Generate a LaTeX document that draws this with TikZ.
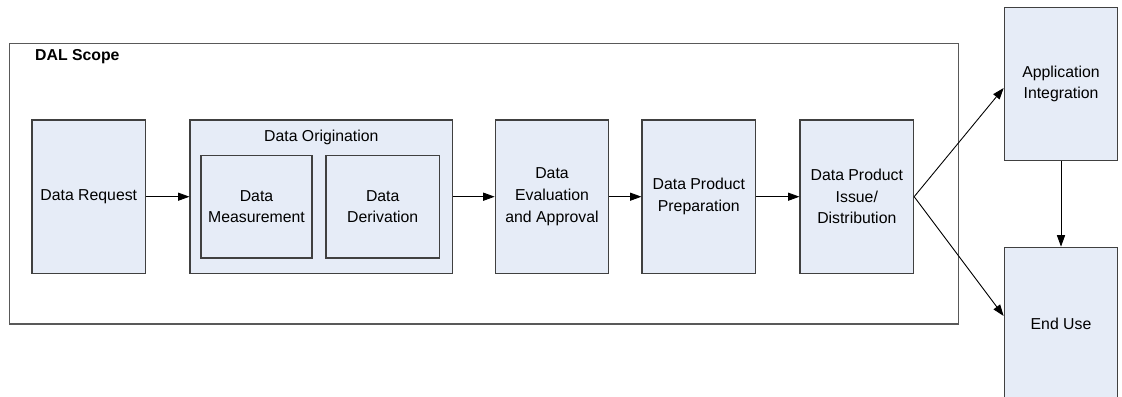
\documentclass[tikz,border=0pt]{standalone}
\usepackage{fontspec}
\setmainfont{Liberation Sans}
\usepackage{tikz}
\usetikzlibrary{arrows.meta,positioning,calc}
\usepackage{xcolor}
\definecolor{boxfill}{HTML}{E6ECF7}
\definecolor{boxline}{HTML}{404040}

\begin{document}
\begin{tikzpicture}[x=0.02cm, y=-0.02cm,
    font=\fontsize{9}{12.3}\selectfont,
    block/.style={draw=boxline, line width=0.7pt, fill=boxfill, align=center,
        inner sep=1pt, minimum width=2.27cm, minimum height=3.07cm},
    inner/.style={draw=boxline, line width=0.7pt, fill=boxfill, align=center,
        inner sep=1pt, minimum height=2.05cm},
    flow/.style={-{Triangle[length=6.5pt, width=4.6pt]}, line width=0.5pt}]
    \useasboundingbox (0,0) rectangle (1122,396);

    % DAL scope frame
    \draw[line width=0.7pt, draw=black!65] (9.5,43.5) rectangle (958.7,324);
    \node[anchor=west, font=\fontsize{9}{11}\selectfont\bfseries] (scope) at (29,57) {DAL Scope};

    % Process steps
    \node[block] (req) at (88.8,196.7) {Data Request};
    \node[block, minimum width=5.25cm] (orig) at (321.3,196.7) {};
    \node (origtitle) at (321.3,137) {Data Origination};
    \node[inner, minimum width=2.22cm] (meas) at (256.5,206.8) {Data\\Measurement};
    \node[inner, minimum width=2.27cm] (deriv) at (382.7,206.8) {Data\\Derivation};
    \node[block] (eval) at (552,196.7) {Data\\Evaluation\\and Approval};
    \node[block] (prep) at (698.8,196.7) {Data Product\\Preparation};
    \node[block] (issue) at (856.8,196.7) {Data Product\\Issue/\\Distribution};

    % Outside the scope
    \node[block] (app) at (1061,84) {Application\\Integration};
    \node[block] (enduse) at (1061,324) {End Use};

    % Arrows
    \draw[flow] (req.east) -- (orig.west);
    \draw[flow] (orig.east) -- (eval.west);
    \draw[flow] (eval.east) -- (prep.west);
    \draw[flow] (prep.east) -- (issue.west);
    \draw[flow] (issue.east) -- ($(app.west)+(0,4)$);
    \draw[flow] (issue.east) -- ($(enduse.west)+(0,-8)$);
    \draw[flow] (app.south) -- (enduse.north);
\end{tikzpicture}
\end{document}
